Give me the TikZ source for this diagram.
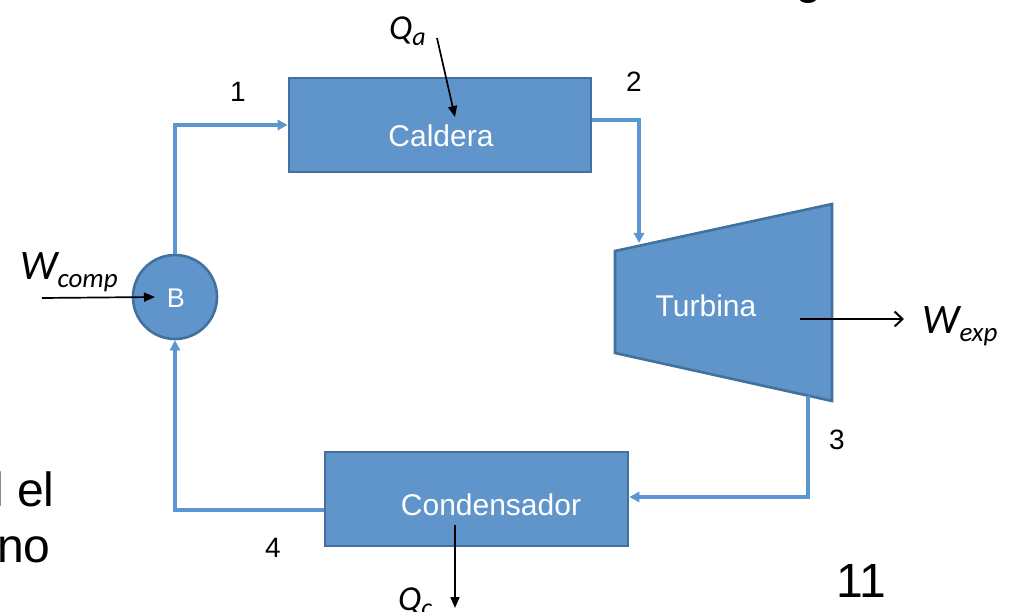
\documentclass[tikz,border=0pt]{standalone}
\usepackage{fontspec}
\setmainfont{Liberation Sans}
\newfontfamily\calib{Carlito}
\usetikzlibrary{arrows.meta}
\definecolor{boxfill}{HTML}{5F95CB}
\definecolor{boxdraw}{HTML}{41719C}
\definecolor{conncol}{HTML}{5A96D0}
\tikzset{
  block/.style={draw=boxdraw, fill=boxfill, line width=2.6pt, rectangle, inner sep=0pt},
  wtext/.style={text=white, font=\fontsize{30}{36}\selectfont, inner sep=0pt},
  conn/.style={draw=conncol, line width=3.2pt, -{Triangle[length=10pt,width=10pt]}},
  num/.style={font=\fontsize{28}{34}\selectfont, inner sep=0pt},
  ext/.style={draw=black, line width=1.7pt, -{Triangle[length=11pt,width=9pt]}},
  extopen/.style={draw=black, line width=1.7pt, -{Straight Barb[length=8pt,width=15pt,line width=2pt]}},
  sym/.style={font=\calib\itshape, inner sep=0pt},
  big/.style={font=\fontsize{48}{56}\selectfont, inner sep=0pt}
}
\begin{document}
\begin{tikzpicture}[x=1pt,y=-1pt]
\useasboundingbox (0,0) rectangle (1010,612);
\begin{scope}
\clip (0,0) rectangle (1010,612);
% main blocks
\node[block, minimum width=302pt, minimum height=94pt] (caldera) at (440,125) {};
\node[wtext] (calderaT) at (441,136) {Caldera};
\node[block, minimum width=303pt, minimum height=94pt] (cond) at (476.5,499) {};
\node[wtext] (condT) at (491,505) {Condensador};
\node[block, circle, minimum size=84pt] (pump) at (175,297) {};
\node[wtext, font=\fontsize{27}{32}\selectfont] (pumpT) at (176,298) {B};
% turbine
\coordinate (tA) at (615,251);
\coordinate (tB) at (832,204);
\coordinate (tC) at (832,401);
\coordinate (tD) at (615,353);
\draw[draw=boxdraw, fill=boxfill, line width=2.6pt, line join=miter] (tA) -- (tB) -- (tC) -- (tD) -- cycle;
\node[wtext] (turbT) at (706,306) {Turbina};
\coordinate (turbIn) at (639,243);
\coordinate (turbOut) at (808,396);
\coordinate (turbW) at (800,319);
% connectors
\draw[conn] (pump.north) |- (caldera.west);
\draw[conn] ([yshift=5pt]caldera.east) -| (turbIn);
\draw[conn] (turbOut) |- ([yshift=2pt]cond.east);
\draw[conn] ([yshift=-11pt]cond.west) -| (pump.south);
% state numbers
\node[num] (n1) at (238,92) {1};
\node[num] (n2) at (634,82) {2};
\node[num] (n3) at (837,440) {3};
\node[num] (n4) at (273,548) {4};
% heat and work
\node[sym, anchor=base west] (Qa) at (389,40) {\fontsize{35}{40}\selectfont Q\raisebox{-6pt}{\fontsize{26}{30}\selectfont a}};
\coordinate (QaS) at (437,38);
\coordinate (QaE) at (455,117);
\draw[ext] (QaS) -- (QaE);
\node[sym, anchor=base west] (Wc) at (20,280) {\fontsize{42}{46}\selectfont W\raisebox{-8pt}{\fontsize{27}{32}\selectfont comp}};
\coordinate (WcS) at (42,298);
\draw[ext] (WcS) -- ([xshift=-20pt]pump.center);
\node[sym, anchor=base west] (We) at (922,334) {\fontsize{42}{46}\selectfont W\raisebox{-8pt}{\fontsize{27}{32}\selectfont exp}};
\coordinate (WeE) at (904,319);
\draw[extopen] (turbW) -- (WeE);
\coordinate (QcS) at (455,525);
\coordinate (QcE) at (455,608);
\draw[ext] (QcS) -- (QcE);
\node[sym, anchor=base west] (Qc) at (398,610) {\fontsize{35}{40}\selectfont Q\raisebox{-6pt}{\fontsize{26}{30}\selectfont c}};
% slide fragments
\node[big, anchor=base west] (frag1) at (-7,506) {l el};
\node[big, anchor=base west] (frag2) at (-3,562) {no};
\node[big, anchor=base west] (frag3) at (836,597) {11};
\node[big, anchor=base west] (frag4) at (795,-6) {g};
\end{scope}
\end{tikzpicture}
\end{document}
